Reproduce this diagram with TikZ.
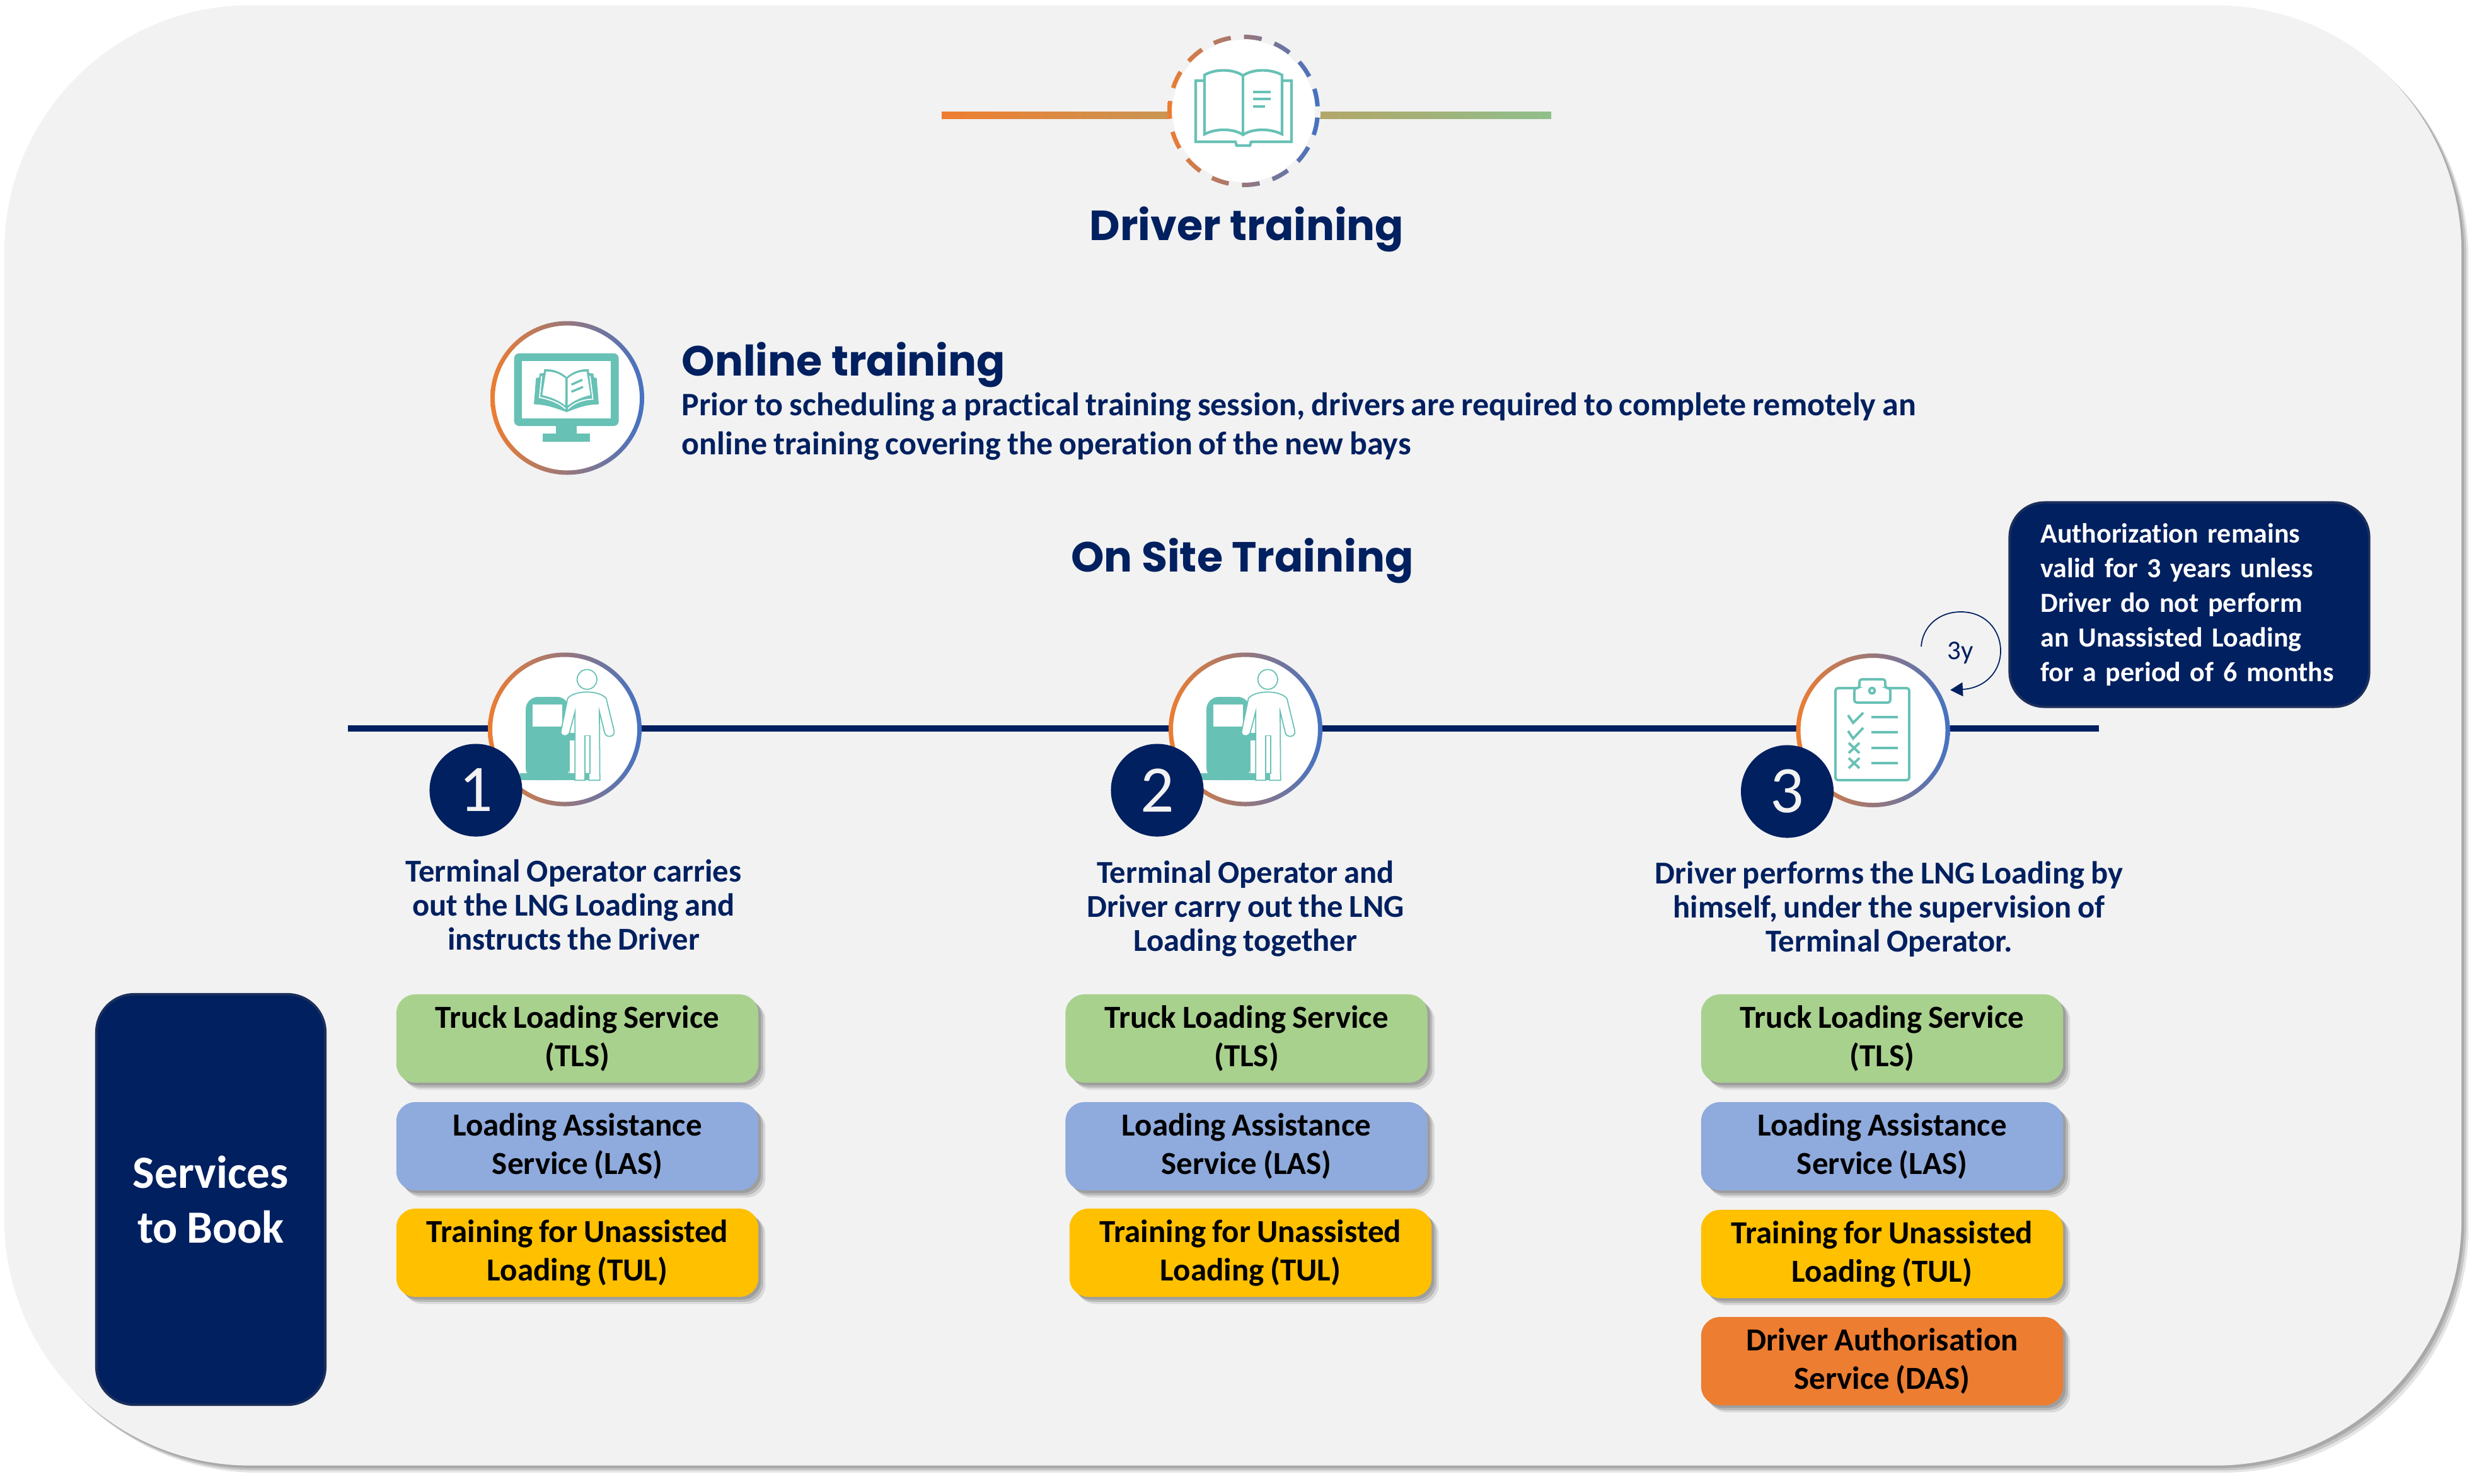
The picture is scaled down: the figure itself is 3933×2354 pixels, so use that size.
\documentclass[tikz,border=0pt]{standalone}
\usepackage{fontspec}
\setmainfont{Carlito}[Ligatures=NoCommon, WordSpace=0.85]
\newfontfamily\headfont{Poppins}
\usetikzlibrary{arrows.meta,shadows}
\definecolor{navy}{HTML}{002060}
\definecolor{navyedge}{HTML}{1B2F5C}
\definecolor{panelgray}{HTML}{F2F2F2}
\definecolor{iconteal}{HTML}{68C1B5}
\definecolor{ringleft}{HTML}{ED7D31}
\definecolor{ringmid}{HTML}{D0789C}
\definecolor{ringright}{HTML}{4472C4}
\definecolor{ruleend}{HTML}{8FBF8B}
\definecolor{tlsgreen}{HTML}{A9D18E}
\definecolor{lasblue}{HTML}{8FAADC}
\definecolor{tulyellow}{HTML}{FFC000}
\definecolor{dasorange}{HTML}{ED7D31}

\begin{document}
\begin{tikzpicture}[
  x=0.01cm, y=-0.01cm,
  softshade/.style={
    drop shadow={shadow xshift=1.2pt, shadow yshift=-1.2pt, opacity=.14, fill=black},
    drop shadow={shadow xshift=2.2pt, shadow yshift=-2.2pt, opacity=.14, fill=black},
    drop shadow={shadow xshift=3.2pt, shadow yshift=-3.2pt, opacity=.10, fill=black}},
  panel/.style={fill=panelgray, rounded corners=3.9cm, minimum width=38.96cm,
                minimum height=23.16cm, inner sep=0pt, softshade},
  svc/.style={softshade, rounded corners=.3cm, minimum width=5.74cm, minimum height=1.4cm,
              inner sep=0pt, align=center, text=black,
              execute at begin node={\rule{0pt}{14pt}},
              font=\fontsize{14.5}{17.3}\selectfont\bfseries},
  tls/.style={svc, fill=tlsgreen},
  las/.style={svc, fill=lasblue},
  tul/.style={svc, fill=tulyellow},
  das/.style={svc, fill=dasorange},
  disc/.style={circle, fill=white, minimum size=2.38cm, inner sep=0pt},
  ringline/.style={left color=ringleft, middle color=ringmid, right color=ringright, even odd rule},
  badge/.style={circle, fill=navy, minimum size=1.47cm, inner sep=0pt, text=panelgray,
                font=\fontsize{30}{30}\selectfont},
  heading/.style={text=navy, font=\headfont\fontsize{19}{24}\selectfont\bfseries},
  stepnote/.style={text=navy, align=center, font=\fontsize{14.4}{15.4}\selectfont\bfseries},
  navybox/.style={fill=navy, draw=navyedge, line width=1.1pt, text=white},
  track/.style={navy, line width=3.1pt},
  iconline/.style={iconteal, line width=1.1pt},
  pump/.pic={
    \begin{scope}[scale=1/3, shift={(-738,-473)}]
      \fill[iconteal, rounded corners=.2cm] (552,715) -- (552,318) -- (760,318) -- (760,715) -- cycle;
      \fill[iconteal] (525,682) rectangle (858,715);
      \fill[iconteal] (760,490) rectangle (858,682);
      \fill[white] (586,354) rectangle (727,458);
      \fill[white] (762,525) rectangle (785,680);
      \draw[iconteal, line width=.5pt, fill=white] (844,235) circle (47);
      \draw[iconteal, line width=.5pt, fill=white]
        (752,325) .. controls (785,285) and (900,285) .. (935,325) -- (973,480)
        .. controls (978,510) and (935,515) .. (928,490) -- (903,388) -- (905,715)
        -- (853,715) -- (853,683) -- (835,683) -- (835,715) -- (787,715) -- (787,388)
        -- (760,490) .. controls (750,512) and (712,505) .. (720,480) -- cycle;
      \fill[white] (836,505) rectangle (856,650);
      \draw[iconteal, line width=.5pt] (833,715) -- (833,503) -- (858,503) -- (858,683);
    \end{scope}
  },
]
  \useasboundingbox (0,0) rectangle (3933,2354);
  \node[panel] (panel) at (1956,1167) {};

  \coordinate (ruleleft) at (1494,177);
  \coordinate (ruleright) at (2461,188);
  \shade[left color=ringleft, right color=ruleend] (ruleleft) rectangle (ruleright);

  \node[disc, minimum size=2.36cm] (bookring) at (1973,176) {};
  \shade[ringline] (bookring.center) circle (121) circle (114);
  \draw[panelgray, line width=2.6pt, dash pattern=on 5.98pt off 8.08pt, dash phase=3pt]
    (bookring.center) circle (117.5);

  \draw[iconline, line width=1.2pt, fill=white] (1897,128) -- (2049,128) -- (2049,225) -- (1985,225)
    -- (1983,231) -- (1962,231) -- (1960,225) -- (1897,225) -- cycle;
  \draw[iconline, line width=1.2pt, fill=white] (1911,213) -- (1911,119)
    .. controls (1930,108) and (1958,110) .. (1972,120)
    .. controls (1986,110) and (2014,108) .. (2034,119) -- (2034,213)
    .. controls (2014,203) and (1986,204) .. (1972,214)
    .. controls (1958,204) and (1930,203) .. (1911,213) -- cycle;
  \draw[iconline, line width=1.2pt] (1972,120) -- (1972,214);
  \fill[iconteal] (1988,144) rectangle (2016,148);
  \fill[iconteal] (1988,155) rectangle (2016,159);
  \fill[iconteal] (1988,167) rectangle (2007,171);

  \node[heading] (title) at (1978,364) {Driver training};

  \node[disc, minimum size=2.36cm] (onlinering) at (900,631.5) {};
  \shade[ringline] (onlinering.center) circle (122) circle (115);
  \begin{scope}[shift={(700,480)}, scale=1/3]
    \fill[iconteal, rounded corners=.08cm] (347,242) rectangle (845,588);
    \fill[white] (384,279) rectangle (807,552);
    \fill[iconteal] (546,588) rectangle (645,628);
    \fill[iconteal] (483,625) rectangle (708,663);
    \fill[iconteal] (441,485) -- (451,360) -- (466,357) -- (468,338) -- (488,336) -- (490,318)
      .. controls (530,315) and (570,330) .. (597,355)
      .. controls (624,330) and (664,315) .. (702,318) -- (704,336) -- (724,338) -- (727,357)
      -- (740,360) -- (750,485) .. controls (690,485) and (640,505) .. (597,522)
      .. controls (550,505) and (500,485) .. (441,485) -- cycle;
    \fill[white] (499,329) .. controls (535,328) and (565,340) .. (591,362) -- (590,490)
      .. controls (560,465) and (520,450) .. (481,441) -- cycle;
    \fill[white] (692,329) .. controls (660,328) and (628,340) .. (602,362) -- (602,490)
      .. controls (635,465) and (670,450) .. (710,441) -- cycle;
    \draw[white, line width=.5pt] (478,350) -- (468,452) .. controls (520,462) and (565,480) .. (591,506);
    \draw[white, line width=.5pt] (708,350) -- (722,460) .. controls (670,462) and (630,480) .. (603,506);
    \draw[iconteal, line width=1pt] (620,391) -- (672,368);
    \draw[iconteal, line width=1pt] (620,425) -- (675,402);
  \end{scope}

  \node[heading, anchor=west, inner xsep=0pt] (onlinehead) at (1081,579) {Online training};
  \node[anchor=west, inner xsep=0pt, text=navy, align=left, font=\fontsize{14.8}{17.6}\selectfont\bfseries] (onlinetext) at (1081,677)
    {Prior to scheduling a practical training session, drivers are required to complete remotely an\\
     online training covering the operation of the new bays};

  \node[heading] (onsite) at (1971,890) {On Site Training};

  \coordinate (trackstart) at (552,1156);
  \coordinate (trackend) at (3330,1156);
  \draw[track] (trackstart) -- (trackend);

  \node[disc] (stepone) at (896,1157.5) {};
  \shade[ringline] (stepone.center) circle (122) circle (115);
  \pic at (stepone.center) {pump};
  \node[badge] (badgeone) at (755,1254) {1};

  \node[disc] (steptwo) at (1976,1157.5) {};
  \shade[ringline] (steptwo.center) circle (122) circle (115);
  \pic at (steptwo.center) {pump};
  \node[badge] (badgetwo) at (1836,1254) {2};

  \node[disc] (stepthree) at (2971.5,1159) {};
  \shade[ringline] (stepthree.center) circle (122) circle (115);
  \draw[iconline, rounded corners=.04cm, fill=white] (2912,1092) rectangle (3029,1238);
  \draw[iconline, rounded corners=.04cm, fill=white] (2942,1115) -- (2942,1092) -- (2950,1092)
    -- (2950,1078) -- (2991,1078) -- (2991,1092) -- (2999,1092) -- (2999,1115) -- cycle;
  \draw[iconline] (2970,1096) circle (4.5);
  \draw[iconline] (2932,1135) -- (2940,1147) -- (2956,1131);
  \draw[iconline] (2932,1160) -- (2940,1172) -- (2956,1155);
  \draw[iconline] (2933,1179) -- (2950,1195);
  \draw[iconline] (2950,1179) -- (2933,1195);
  \draw[iconline] (2933,1203) -- (2950,1219);
  \draw[iconline] (2950,1203) -- (2933,1219);
  \draw[iconline, line width=1.4pt] (2969,1138) -- (3011,1138);
  \draw[iconline, line width=1.4pt] (2969,1162) -- (3011,1162);
  \draw[iconline, line width=1.4pt] (2969,1187) -- (3011,1187);
  \draw[iconline, line width=1.4pt] (2969,1211) -- (3011,1211);
  \node[badge] (badgethree) at (2835.5,1256) {3};

  \node[text=navy, font=\fontsize{12.2}{14}\selectfont] (cycle) at (3110,1036) {3y};
  \coordinate (cyclestart) at (3048,1026);
  \coordinate (cycleend) at (3094,1095);
  \draw[navy, line width=.5pt, -{Triangle[length=2mm, width=2.2mm]}] (cyclestart)
    .. controls (3050,995) and (3075,971) .. (3111,971)
    .. controls (3150,971) and (3174,1000) .. (3174,1033)
    .. controls (3174,1065) and (3150,1092) .. (cycleend);

  \node[navybox, rounded corners=.55cm, minimum width=5.70cm, minimum height=3.24cm, inner xsep=.49cm,
        text width=4.72cm, align=left, font=\fontsize{12.5}{15.6}\selectfont\bfseries]
    (authnote) at (3473.5,959.5)
    {Authorization remains\\valid for 3 years unless\\Driver do not perform\\an Unassisted Loading\\for a period of 6 months};

  \node[stepnote] (noteone) at (910,1436) {Terminal Operator carries\\out the LNG Loading and\\instructs the Driver};
  \node[stepnote] (notetwo) at (1976,1442) {Terminal Operator and\\Driver carry out the LNG\\Loading together};
  \node[stepnote] (notethree) at (2997,1443) {Driver performs the LNG Loading by\\himself, under the supervision of\\Terminal Operator.};

  \node[navybox, rounded corners=.6cm, minimum width=3.63cm, minimum height=6.51cm, inner sep=0pt,
        align=center, font=\fontsize{20.8}{24.8}\selectfont\bfseries]
    (services) at (334.5,1903.5) {Services\\to Book};

  \node[tls] (tlsone) at (916,1648) {Truck Loading Service\\(TLS)};
  \node[las] (lasone) at (916,1819) {Loading Assistance\\Service (LAS)};
  \node[tul] (tulone) at (916,1988) {Training for Unassisted\\Loading (TUL)};

  \node[tls] (tlstwo) at (1977.5,1648) {Truck Loading Service\\(TLS)};
  \node[las] (lastwo) at (1977.5,1819) {Loading Assistance\\Service (LAS)};
  \node[tul] (tultwo) at (1984,1988) {Training for Unassisted\\Loading (TUL)};

  \node[tls] (tlsthree) at (2986,1648) {Truck Loading Service\\(TLS)};
  \node[las] (lasthree) at (2986,1819) {Loading Assistance\\Service (LAS)};
  \node[tul] (tulthree) at (2986,1990) {Training for Unassisted\\Loading (TUL)};
  \node[das] (dasthree) at (2986,2160) {Driver Authorisation\\Service (DAS)};
\end{tikzpicture}
\end{document}
